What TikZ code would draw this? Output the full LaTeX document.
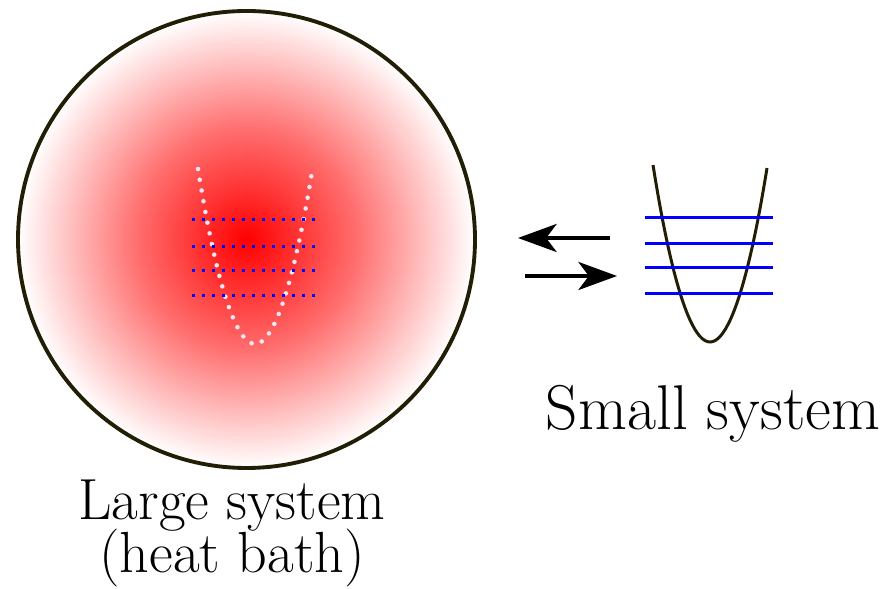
\documentclass[tikz,border=0pt]{standalone}
\usepackage{tikz}
\usetikzlibrary{arrows.meta}
\definecolor{rimdark}{RGB}{34,29,5}
\definecolor{levelblue}{RGB}{0,0,255}
\definecolor{ghostdot}{RGB}{232,232,245}
\newcommand{\captionfont}{\fontsize{18pt}{21pt}\selectfont}
\newcommand{\bathfont}{\fontsize{16.5pt}{14.8pt}\selectfont\lineskiplimit=-20pt\relax}
\pgfdeclareradialshading{bathglow}{\pgfpoint{0bp}{0bp}}{color(0bp)=(red); color(12bp)=(red!57!white); color(25bp)=(white); color(50bp)=(white)}
\tikzset{
  level/.style={levelblue,line width=0.85pt},
  ghostlevel/.style={levelblue,line width=0.85pt,dash pattern=on 0.85pt off 2pt},
  well/.style={rimdark,line width=0.85pt},
  ghostwell/.style={ghostdot,line width=1.3pt,line cap=round,dash pattern=on 0pt off 3.1pt},
  flow/.style={line width=0.95pt,-{Stealth[length=11pt,width=8pt,inset=3pt]}},
  caption/.style={font=\captionfont,inner sep=0pt,align=center}
}

\begin{document}
\begin{tikzpicture}[x=0.01cm,y=-0.01cm]
        \useasboundingbox (0,0) rectangle (886,589);
        % the bath
        \shade[shading=bathglow] (246.5,239.5) circle (228.5);
        \draw[rimdark,line width=1.1pt] (246.5,239.5) circle (228.5);
        \draw[ghostwell] (198,169) parabola bend (255,344) (312,172);
        \foreach \y in {220,247,271,296}
          \draw[ghostlevel] (192,\y) -- (319,\y);
        % exchange arrows
        \coordinate (outTail) at (610,238);
        \coordinate (outTip) at (518,238);
        \coordinate (inTail) at (525,276);
        \coordinate (inTip) at (617,276);
        \draw[flow] (outTail) -- (outTip);
        \draw[flow] (inTail) -- (inTip);
        % the small system
        \draw[well] (653,165) parabola bend (710,342) (767,168);
        \foreach \y in {218,244,268,294}
          \draw[level] (645,\y) -- (773,\y);
        \node[caption,anchor=base] (smalllabel) at (713,430) {Small system};
        \node[caption,font=\bathfont,anchor=base] (largelabel) at (232,572) {Large system\\(heat bath)};
      \end{tikzpicture}
\end{document}
